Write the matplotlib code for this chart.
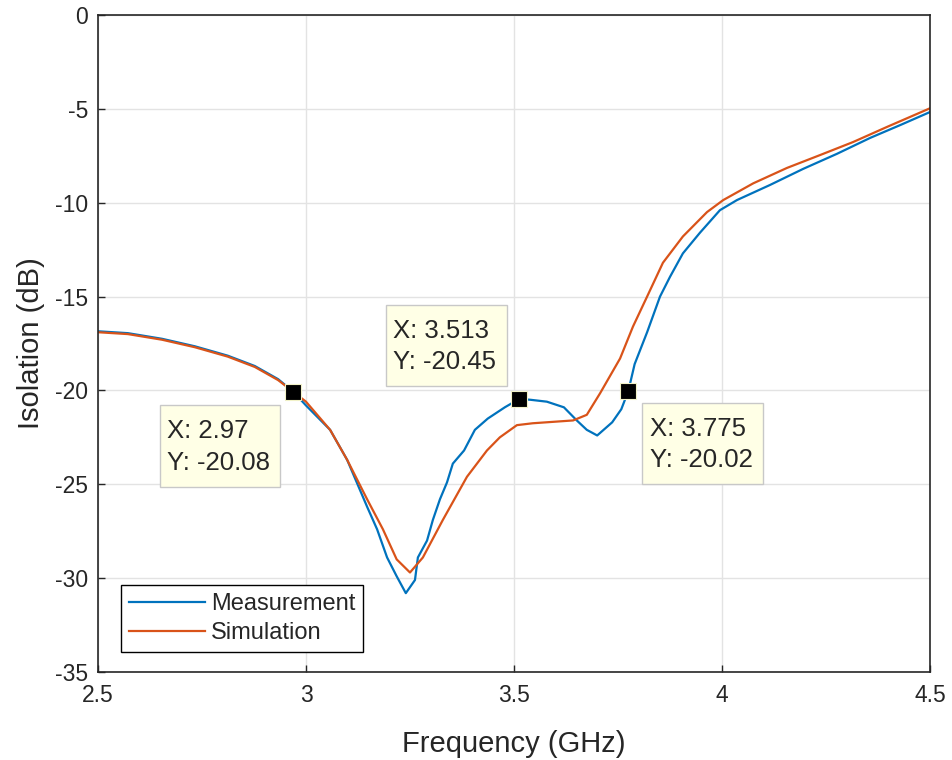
import matplotlib
matplotlib.use("Agg")
import matplotlib.pyplot as plt
from matplotlib.patches import Rectangle

plt.rcParams['font.family'] = ['Liberation Sans', 'DejaVu Sans']
plt.rcParams['axes.unicode_minus'] = False

# measured isolation (blue)
meas_f = [2.5, 2.572, 2.654, 2.733, 2.812, 2.877, 2.933, 2.97, 3.0, 3.058, 3.099,
          3.147, 3.171, 3.195, 3.218, 3.24, 3.262, 3.269, 3.291, 3.305, 3.322, 3.339,
          3.353, 3.38, 3.406, 3.437, 3.478, 3.513, 3.54, 3.579, 3.62, 3.651, 3.675, 3.7,
          3.736, 3.758, 3.775, 3.79, 3.82, 3.851, 3.875, 3.906, 3.947, 3.995, 4.036,
          4.115, 4.195, 4.276, 4.356, 4.43, 4.5]
meas_db = [-16.85, -16.95, -17.25, -17.65, -18.15, -18.7, -19.4, -20.08, -20.8, -22.1, -23.7,
           -26.2, -27.4, -28.9, -29.9, -30.8, -30.1, -28.9, -28.0, -26.9, -25.8, -24.9,
           -23.9, -23.2, -22.1, -21.5, -20.9, -20.45, -20.5, -20.6, -20.9, -21.6, -22.1, -22.4,
           -21.7, -21.0, -20.02, -18.6, -16.9, -15.0, -13.95, -12.7, -11.6, -10.4, -9.86,
           -9.06, -8.2, -7.4, -6.55, -5.85, -5.17]

# simulated isolation (orange)
sim_f = [2.5, 2.572, 2.654, 2.733, 2.812, 2.877, 2.933, 2.97, 3.0, 3.058, 3.099,
         3.147, 3.185, 3.218, 3.25, 3.281, 3.329, 3.387, 3.435, 3.466, 3.507, 3.545,
         3.642, 3.675, 3.707, 3.755, 3.786, 3.82, 3.858, 3.906, 3.964, 4.003,
         4.075, 4.156, 4.236, 4.315, 4.397, 4.5]
sim_db = [-16.9, -17.0, -17.3, -17.7, -18.2, -18.75, -19.45, -20.08, -20.6, -22.1, -23.7,
          -25.8, -27.4, -29.0, -29.7, -28.9, -26.9, -24.6, -23.2, -22.5, -21.85, -21.75,
          -21.6, -21.3, -20.15, -18.3, -16.6, -15.0, -13.2, -11.8, -10.5, -9.86,
          -8.97, -8.15, -7.46, -6.77, -5.96, -4.97]

# data tips
tip_x = [2.97, 3.513, 3.775]
tip_y = [-20.08, -20.45, -20.02]
tip_labels = ['X: 2.97\nY: -20.08', 'X: 3.513\nY: -20.45', 'X: 3.775\nY: -20.02']
# tip box layout: (x0, x1, y_top, y_bottom) in data units
tip_boxes = [(2.649, 2.9375, -20.78, -25.15),
             (3.192, 3.483, -15.45, -19.77),
             (3.808, 4.099, -20.67, -24.99)]

dark = '#262626'

fig = plt.figure(figsize=(9.52, 7.6), dpi=100)
ax = fig.add_axes([0.1029, 0.1158, 0.874, 0.8645])

ax.plot(meas_f, meas_db, color='#0072BD', lw=1.6, label='Measurement')
ax.plot(sim_f, sim_db, color='#D95319', lw=1.6, label='Simulation')

ax.plot(tip_x, tip_y, 's', color='black', ms=11, mec='#f2f2c8', mew=0.8,
        linestyle='none', zorder=5)
for (x0, x1, yt, yb), lab in zip(tip_boxes, tip_labels):
    ax.add_patch(Rectangle((x0, yb), x1 - x0, yt - yb, fc='#FFFFE6', ec='#c8c8c8',
                           lw=1, zorder=6))
    ax.text(x0 + 0.018, (yt + yb) / 2 - 0.05, lab, ha='left', va='center',
            fontsize=18.5, color=dark, linespacing=1.38, zorder=7)

ax.set_xlim(2.5, 4.5)
ax.set_ylim(-35, 0)
ax.set_xticks([2.5, 3, 3.5, 4, 4.5])
ax.set_xticklabels(['2.5', '3', '3.5', '4', '4.5'])
ax.set_yticks(range(-35, 1, 5))
ax.grid(True, color='#e3e3e3', lw=1)
ax.set_axisbelow(True)
ax.tick_params(direction='in', length=5, width=1, colors=dark, labelsize=16.5)
ax.tick_params(axis='x', pad=9)
ax.tick_params(axis='y', pad=7)
for s in ax.spines.values():
    s.set_color(dark)
    s.set_linewidth(1.2)

ax.set_xlabel('Frequency (GHz)', fontsize=21, color=dark, labelpad=16)
ax.set_ylabel('Isolation (dB)', fontsize=21, color=dark, labelpad=7)

leg = ax.legend(loc='lower left', bbox_to_anchor=(0.0276, 0.030), borderaxespad=0,
                fontsize=17, handlelength=3.2, handletextpad=0.25, labelspacing=0.3,
                borderpad=0.35, fancybox=False, framealpha=1, edgecolor='black')
leg.get_frame().set_linewidth(1)
for t in leg.get_texts():
    t.set_color(dark)

fig.savefig('out.png', dpi=100)
